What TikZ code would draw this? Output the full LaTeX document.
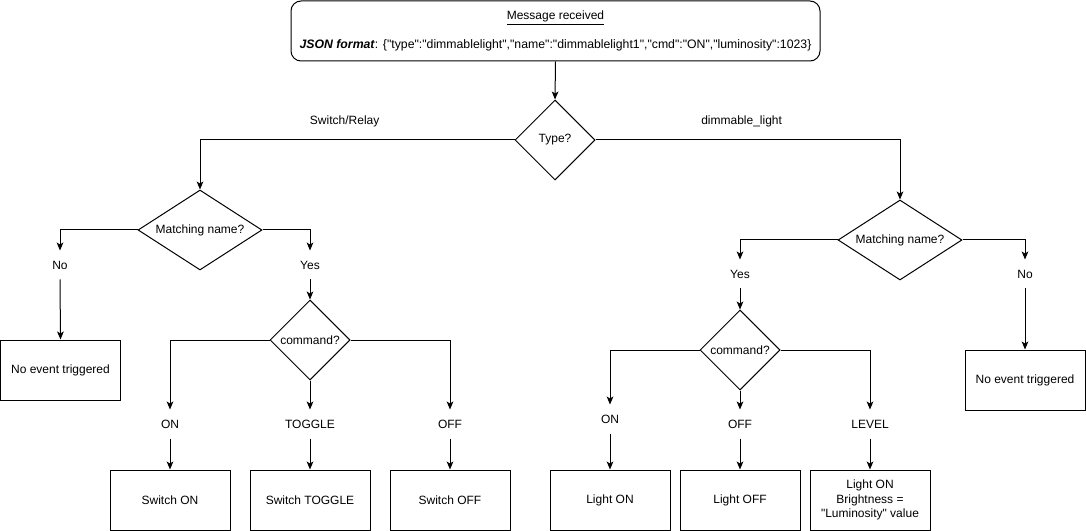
\documentclass[tikz,border=0pt]{standalone}
\usepackage{fontspec}
\setmainfont{Liberation Sans}[Ligatures=TeXOff]
\usetikzlibrary{shapes.geometric,arrows.meta,positioning}
\tikzset{
    box/.style={draw, minimum width=90pt, minimum height=45pt, align=center, inner sep=1pt},
    decision/.style={draw, diamond, inner sep=0pt, align=center},
    choice/.style={minimum height=21pt, inner sep=0pt},
    flow/.style={-{Stealth[length=6pt, width=5pt, inset=1.5pt]}}
}

\begin{document}
\begin{tikzpicture}[x=0.75pt, y=-0.75pt, line width=0.75pt, font=\fontsize{9}{11}\selectfont]
    \useasboundingbox (0,0) rectangle (1086,531);
    % message and type
    \node[draw, rounded corners=7.5pt, minimum width=396.75pt, minimum height=45pt, align=center] (msg) at (555.5,31)
        {\underline{Message received}\\[10.5pt]{\fontsize{9.2}{11}\selectfont\textbf{\textit{JSON format}}: \{"type":"dimmablelight","name":"dimmablelight1","cmd":"ON","luminosity":1023\}}};
    \node[decision, minimum width=60pt, minimum height=60pt] (type) at (555,140) {Type?};
    \draw[flow] (msg.south) -- (type.north);

    % switch / relay side
    \node[decision, shape aspect=1.55, minimum width=93pt, minimum height=60pt] (swmatch) at (200,230) {Matching name?};
    \node[choice] (swno) at (60,265) {No};
    \node[choice] (swyes) at (310,265) {Yes};
    \node[box] (swnone) at (60.5,370) {No event triggered};
    \node[decision, minimum width=60pt, minimum height=60pt] (swcmd) at (310,340) {command?};
    \node[choice] (swon) at (170,424) {ON};
    \node[choice] (swtoggle) at (310,424) {TOGGLE};
    \node[choice] (swoff) at (450,424) {OFF};
    \node[box] (swonbox) at (170,500) {Switch ON};
    \node[box] (swtogglebox) at (310,500) {Switch TOGGLE};
    \node[box] (swoffbox) at (450,500) {Switch OFF};

    % dimmable light side
    \node[decision, shape aspect=1.55, minimum width=93pt, minimum height=60pt] (dlmatch) at (900,240) {Matching name?};
    \node[choice] (dlyes) at (740,274) {Yes};
    \node[choice] (dlno) at (1025,274) {No};
    \node[box] (dlnone) at (1025,380) {No event triggered};
    \node[decision, minimum width=60pt, minimum height=60pt] (dlcmd) at (740,350) {command?};
    \node[choice] (dlon) at (610,419) {ON};
    \node[choice] (dloff) at (740,424) {OFF};
    \node[choice] (dllevel) at (870,424) {LEVEL};
    \node[box] (dlonbox) at (610,500) {Light ON};
    \node[box] (dloffbox) at (740,500) {Light OFF};
    \node[box] (dllevelbox) at (870,500) {Light ON\\Brightness =\\"Luminosity" value};

    \draw[flow] (type.west) -| node[pos=0.27, above=6pt] {Switch/Relay} (swmatch.north);
    \draw[flow] (type.east) -| node[pos=0.24, above=6pt] {dimmable\_light} (dlmatch.north);

    \draw[flow] (swmatch.west) -| (swno.north);
    \draw[flow] (swmatch.east) -| (swyes.north);
    \draw[flow] (swno.south) -- (swnone.north);
    \draw[flow] (swyes.south) -- (swcmd.north);
    \draw[flow] (swcmd.west) -| (swon.north);
    \draw[flow] (swcmd.south) -- (swtoggle.north);
    \draw[flow] (swcmd.east) -| (swoff.north);
    \draw[flow] (swon.south) -- (swonbox.north);
    \draw[flow] (swtoggle.south) -- (swtogglebox.north);
    \draw[flow] (swoff.south) -- (swoffbox.north);

    \draw[flow] (dlmatch.west) -| (dlyes.north);
    \draw[flow] (dlmatch.east) -| (dlno.north);
    \draw[flow] (dlno.south) -- (dlnone.north);
    \draw[flow] (dlyes.south) -- (dlcmd.north);
    \draw[flow] (dlcmd.west) -| (dlon.north);
    \draw[flow] (dlcmd.south) -- (dloff.north);
    \draw[flow] (dlcmd.east) -| (dllevel.north);
    \draw[flow] (dlon.south) -- (dlonbox.north);
    \draw[flow] (dloff.south) -- (dloffbox.north);
    \draw[flow] (dllevel.south) -- (dllevelbox.north);
\end{tikzpicture}
\end{document}
